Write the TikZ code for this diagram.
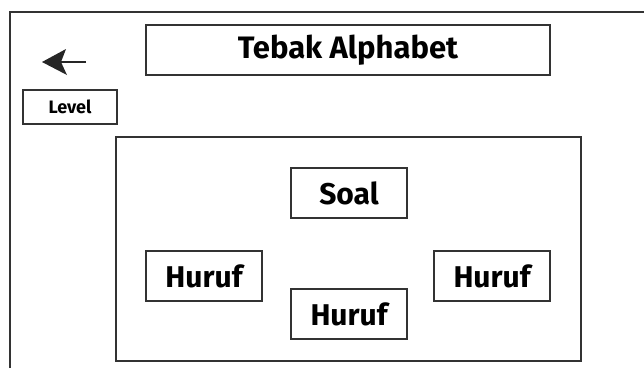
\documentclass[tikz,border=0pt]{standalone}
\usepackage{fontspec}
\setmainfont{Fira Sans}

\tikzset{
  kotak/.style={draw=black!80, line width=1.6pt, inner sep=0pt},
  tombol/.style={kotak, minimum width=116pt, minimum height=50pt, font=\fontsize{30}{33}\selectfont\bfseries}
}

\begin{document}
\begin{tikzpicture}[x=1pt, y=-1pt]

\useasboundingbox (0,0) rectangle (644,368);
\fill[white] (0,0) rectangle (644,368);

% frame of the screen
\draw[black!80, line width=1.8pt] (10,368) -- (10,12) -- (644,12);

\node[kotak, minimum width=404pt, minimum height=50pt, font=\fontsize{31}{34}\selectfont\bfseries] (judul) at (348,50) {Tebak Alphabet};

% back arrow
\coordinate (ekor) at (86,62);
\coordinate (ujung) at (42,62);
\draw[black!85, line width=2.4pt] (ekor) -- (60,62);
\fill[black!85] (ujung) -- (66,49) -- (61,62) -- (67,75) -- cycle;

\node[kotak, minimum width=94pt, minimum height=34pt, font=\fontsize{18}{20}\selectfont\bfseries] (level) at (70,107) {Level};

\node[kotak, minimum width=465pt, minimum height=224pt] (papan) at (348.5,249) {};

\node[tombol] (soal) at (349,193) {Soal};
\node[tombol] (hurufkiri) at (204,276) {Huruf};
\node[tombol] (hurufbawah) at (349,314) {Huruf};
\node[tombol] (hurufkanan) at (492,276) {Huruf};

\end{tikzpicture}
\end{document}
